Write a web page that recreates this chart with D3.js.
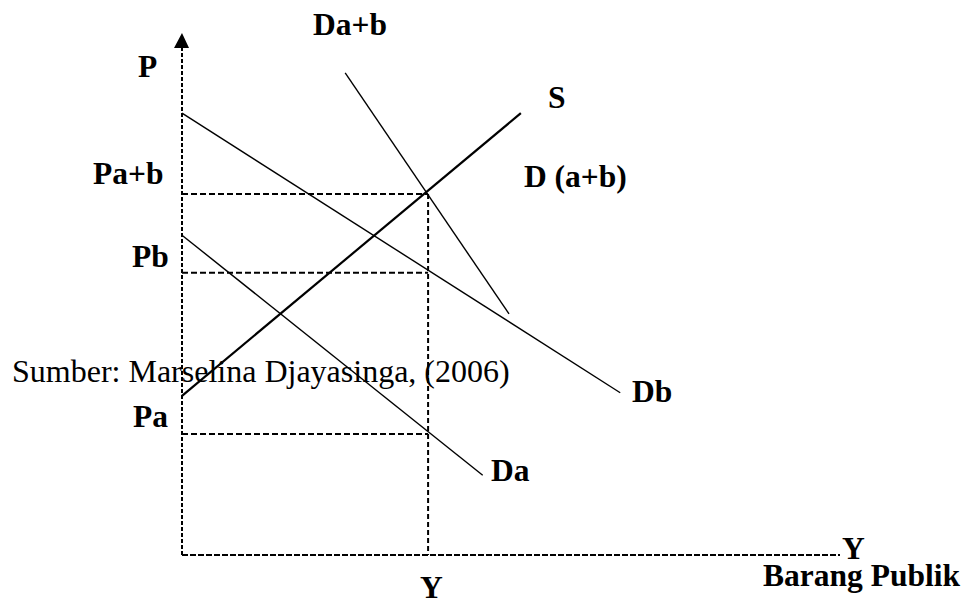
<!DOCTYPE html>
<html>
<head>
<meta charset="utf-8">
<script src="https://cdn.jsdelivr.net/npm/d3@7"></script>
<style>
  body { margin: 0; background: #fff; }
  svg { display: block; }
  .lbl { font-family: "Times New Roman", "Liberation Serif", serif; font-size: 32px; fill: #000; }
  .bold { font-weight: bold; font-size: 31.5px; }
</style>
</head>
<body>
<svg id="chart"></svg>
<script>
// quantity (Q) and price (P) in chart units
var qMax = 10, pMax = 10;
var qEq = 3.74;                       // Y (equilibrium quantity)
var priceLevels = [7.01, 5.48, 2.35]; // Pa+b, Pb, Pa
var priceNames = ["Pa+b", "Pb", "Pa"];

// curves: [start, end] as {q, p}
var curveNames = ["Db", "Da", "S", "Da+b"];
var curveStart = [{ q: 0, p: 8.58 }, { q: 0, p: 6.21 }, { q: 0, p: 3.09 }, { q: 2.48, p: 9.36 }];
var curveEnd = [{ q: 6.66, p: 3.15 }, { q: 4.57, p: 1.55 }, { q: 5.15, p: 8.58 }, { q: 4.97, p: 4.68 }];

var width = 962, height = 604;
const svg = d3.select("#chart").attr("width", width).attr("height", height);

const x = d3.scaleLinear().domain([0, qMax]).range([182, 840]);
const y = d3.scaleLinear().domain([0, pMax]).range([555, 40]);

// dashed axes
svg.append("line")
  .attr("x1", x(0)).attr("y1", y(0)).attr("x2", x(0)).attr("y2", y(pMax) + 6)
  .attr("stroke", "#000").attr("stroke-width", 2).attr("stroke-dasharray", "4,2");
svg.append("line")
  .attr("x1", x(0)).attr("y1", y(0)).attr("x2", x(qMax)).attr("y2", y(0))
  .attr("stroke", "#000").attr("stroke-width", 2).attr("stroke-dasharray", "6,2");

// arrow head on P axis
svg.append("path")
  .attr("d", `M${x(0)},${y(pMax) - 7} L${x(0) - 8},${y(pMax) + 8} L${x(0) + 7},${y(pMax) + 8} Z`)
  .attr("fill", "#000");

// dashed guide lines
svg.selectAll(".guide")
  .data(priceLevels)
  .enter()
  .append("line")
  .attr("class", "guide")
  .attr("x1", x(0)).attr("x2", x(qEq))
  .attr("y1", (d) => y(d)).attr("y2", (d) => y(d))
  .attr("stroke", "#000").attr("stroke-width", 2).attr("stroke-dasharray", "6,3");

svg.append("line")
  .attr("x1", x(qEq)).attr("x2", x(qEq))
  .attr("y1", y(priceLevels[0])).attr("y2", y(0))
  .attr("stroke", "#000").attr("stroke-width", 2).attr("stroke-dasharray", "5,3");

// curves
svg.selectAll(".curve")
  .data(curveNames)
  .enter()
  .append("line")
  .attr("class", "curve")
  .attr("x1", (d, i) => x(curveStart[i].q)).attr("y1", (d, i) => y(curveStart[i].p))
  .attr("x2", (d, i) => x(curveEnd[i].q)).attr("y2", (d, i) => y(curveEnd[i].p))
  .attr("stroke", "#000")
  .attr("stroke-width", (d) => (d === "S" ? 2.2 : 1.4));

// source note (drawn over the lines like in the original)
svg.append("text").attr("class", "lbl")
  .attr("x", 12).attr("y", 382)
  .text("Sumber: Marselina Djayasinga, (2006)");

// price labels left of the axis
var priceLabelX = [93, 132, 133];
var priceLabelDy = [-10, -6, -7];
svg.selectAll(".plbl")
  .data(priceNames)
  .enter()
  .append("text")
  .attr("class", "lbl bold plbl")
  .attr("x", (d, i) => priceLabelX[i])
  .attr("y", (d, i) => y(priceLevels[i]) + priceLabelDy[i])
  .text((d) => d);

function label(txt, px, py) {
  svg.append("text").attr("class", "lbl bold").attr("x", px).attr("y", py).text(txt);
}
label("P", 138, 77);
label("Da+b", 313, 35);
label("S", 548, 108);
label("D (a+b)", 524, 187);
label("Db", 632, 402);
label("Da", 491, 481);
label("Y", 842, 559);
label("Y", 420, 598);
label("Barang Publik", 763, 586);
</script>
</body>
</html>
